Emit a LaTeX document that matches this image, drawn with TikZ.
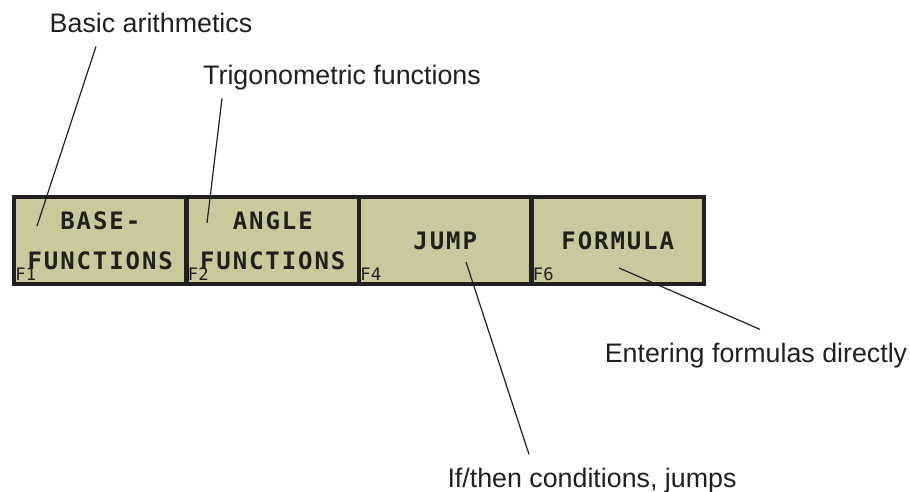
\documentclass[tikz,border=0pt]{standalone}
\usepackage{fontspec}
\setmainfont{Liberation Sans}
\newfontfamily\keyfont{DejaVu Sans Mono}[LetterSpace=8]
\newfontfamily\fkeyfont{DejaVu Sans Mono}
\usetikzlibrary{positioning}

\definecolor{keyfill}{RGB}{201,201,155}
\definecolor{inkblack}{RGB}{35,31,32}

\begin{document}
\begin{tikzpicture}[x=0.5pt, y=-0.5pt,
    softkey/.style={draw=inkblack, line width=2.3pt, fill=keyfill,
      minimum width=86.25pt, minimum height=43.5pt, inner sep=0pt, outer sep=0pt,
      align=center, text=inkblack,
      font=\keyfont\bfseries\fontsize{12}{20}\selectfont},
    fkey/.style={anchor=base west, inner sep=0pt, text=inkblack,
      font=\fkeyfont\fontsize{8.6}{10}\selectfont},
    callout/.style={anchor=base, inner xsep=2pt, inner ysep=6.5pt,
      text height=9.6pt, text depth=0pt, text=inkblack,
      font=\fontsize{13.4}{16}\selectfont},
    pin/.style={draw=inkblack, line width=0.6pt},
    ]
    \useasboundingbox (0,0) rectangle (910,492);

    % soft key row
    \node [softkey] (base) at (100.25,240.5) {BASE-\\FUNCTIONS};
    \node [softkey, right=0pt of base] (angle) {ANGLE\\FUNCTIONS};
    \node [softkey, right=0pt of angle] (jump) {JUMP};
    \node [softkey, right=0pt of jump] (formula) {FORMULA};

    \node [fkey] (base-f) at ([shift={(0.5pt,2pt)}]base.south west) {F1};
    \node [fkey] (angle-f) at ([shift={(0.5pt,2pt)}]angle.south west) {F2};
    \node [fkey] (jump-f) at ([shift={(0.5pt,2pt)}]jump.south west) {F4};
    \node [fkey] (formula-f) at ([shift={(0.5pt,2pt)}]formula.south west) {F6};

    % explanations
    \node [callout] (arith) at (151,33) {Basic arithmetics};
    \node [callout] (trig) at (342,85) {Trigonometric functions};
    \node [callout] (cond) at (592,487) {If/then conditions, jumps};
    \node [callout] (direct) at (756,362) {Entering formulas directly};

    \coordinate (base-pin) at (37,226);
    \coordinate (angle-pin) at (207,223);
    \coordinate (jump-pin) at (466,262);
    \coordinate (formula-pin) at (619,268);

    \draw [pin] (base-pin) -- ([xshift=-27.5pt]arith.south);
    \draw [pin] (angle-pin) -- ([xshift=-60pt]trig.south);
    \draw [pin] (jump-pin) -- ([xshift=-31.5pt]cond.north);
    \draw [pin] (formula-pin) -- ([xshift=2pt]direct.north);
\end{tikzpicture}
\end{document}
